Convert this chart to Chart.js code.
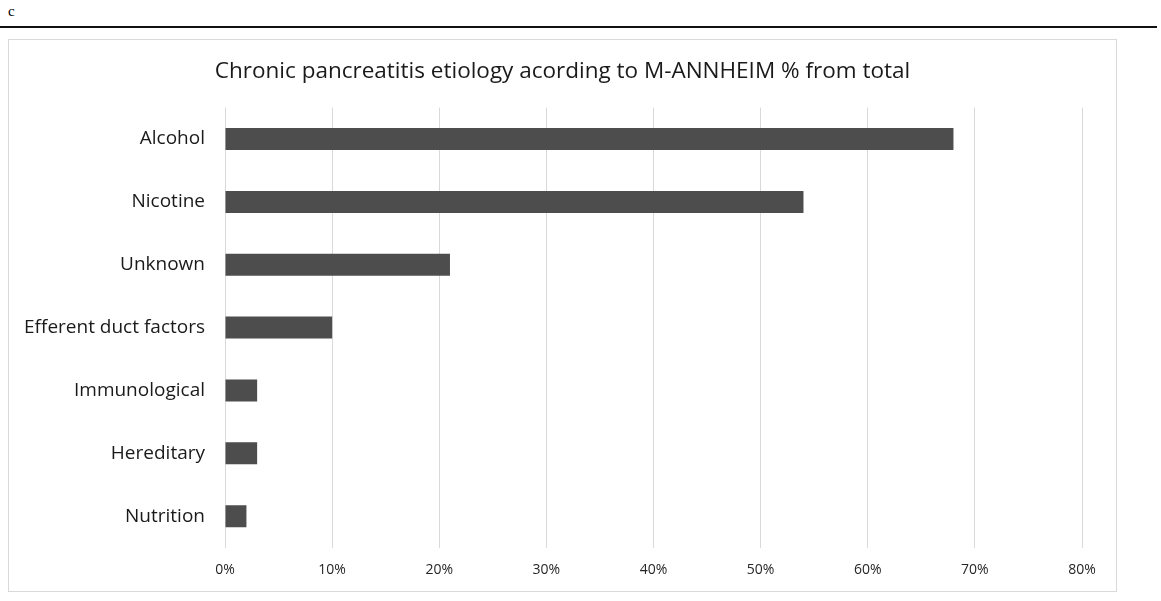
<!DOCTYPE html>
<html>
<head>
<meta charset="utf-8">
<script src="https://cdn.jsdelivr.net/npm/chart.js@4/dist/chart.umd.min.js"></script>
<style>
  html, body { margin: 0; padding: 0; background: #ffffff; }
  body { width: 1161px; height: 601px; position: relative; overflow: hidden; }
  #panel { position: absolute; left: 8px; top: 4px; font-family: "Liberation Serif", serif; font-size: 15px; line-height: 15px; color: #000; }
  #rule { position: absolute; left: 0; top: 26px; width: 1157px; height: 2px; background: #111; }
  #frame { position: absolute; left: 8px; top: 39px; width: 1107px; height: 551px; border: 1px solid #d9d9d9; }
  #frame canvas { display: block; }
</style>
</head>
<body>
<div id="panel">c</div>
<div id="rule"></div>
<div id="frame"><canvas id="chart" width="1107" height="551"></canvas></div>
<script>
// Etiology categories (top to bottom) and their share of all cases, in percent
const categories = ["Alcohol", "Nicotine", "Unknown", "Efferent duct factors", "Immunological", "Hereditary", "Nutrition"];
const percentages = [68, 54, 21, 10, 3, 3, 2];
const xTicks = [0, 10, 20, 30, 40, 50, 60, 70, 80];
const chartTitle = "Chronic pancreatitis etiology acording to M-ANNHEIM % from total";

const FONT = "'Open Sans', 'Noto Sans', sans-serif";

// Center the title over the whole canvas rather than the padded layout area
const fullWidthTitle = {
  id: "fullWidthTitle",
  afterLayout(chart) {
    const t = chart.titleBlock;
    if (t) { t.left = 0; t.right = chart.width; t.width = chart.width; }
  }
};

new Chart(document.getElementById("chart"), {
  type: "bar",
  data: {
    labels: categories,
    datasets: [{
      data: percentages,
      backgroundColor: "#4d4d4d",
      borderWidth: 0,
      categoryPercentage: 1,
      barPercentage: 0.35
    }]
  },
  options: {
    indexAxis: "y",
    responsive: false,
    animation: false,
    layout: { padding: { left: 0, right: 34, top: 0, bottom: 0 } },
    plugins: {
      legend: { display: false },
      tooltip: { enabled: false },
      title: {
        display: true,
        text: chartTitle,
        color: "#1a1a1a",
        font: { family: FONT, size: 22.5, weight: "normal", lineHeight: 1.2 },
        padding: { top: 18.5, bottom: 22.1 }
      }
    },
    scales: {
      x: {
        min: 0,
        max: 80,
        afterBuildTicks: (scale) => { scale.ticks = xTicks.map(v => ({ value: v })); },
        afterFit: (scale) => { scale.height = 43.4; },
        grid: { color: "#d9d9d9", lineWidth: 1, drawTicks: false },
        border: { display: false },
        ticks: {
          padding: 14,
          color: "#262626",
          font: { family: FONT, size: 14 },
          callback: (v) => v + "%"
        }
      },
      y: {
        afterFit: (scale) => { scale.width = 216; },
        grid: { display: false, drawTicks: false },
        border: { display: false },
        ticks: {
          padding: 20,
          color: "#1a1a1a",
          font: { family: FONT, size: 19 }
        }
      }
    }
  },
  plugins: [fullWidthTitle]
});
</script>
</body>
</html>
